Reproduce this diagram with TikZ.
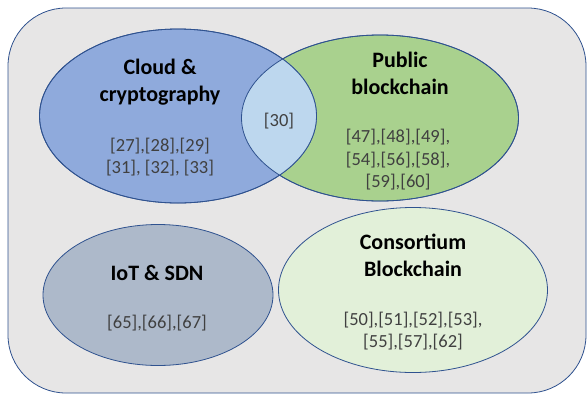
\documentclass[tikz,border=0pt]{standalone}
\usepackage{fontspec}
\setmainfont{Carlito}
\usepackage{tikz}
\usetikzlibrary{shapes.geometric}
\definecolor{setline}{HTML}{2F528F}
\definecolor{panelgray}{HTML}{E7E6E6}
\definecolor{cloudblue}{HTML}{8FAADC}
\definecolor{publicgreen}{HTML}{A9D18E}
\definecolor{lensblue}{HTML}{BDD7EE}
\definecolor{iotgray}{HTML}{ADB9CA}
\definecolor{consgreen}{HTML}{E2F0D9}
\definecolor{refgray}{HTML}{404040}

\begin{document}
\begin{tikzpicture}[x=1pt,y=-1pt,
  set node/.style={ellipse,draw=setline,line width=0.8pt,inner sep=0pt},
  title node/.style={font=\fontsize{22}{27}\selectfont\bfseries,align=center},
  ref node/.style={font=\fontsize{18.5}{22.5}\selectfont,text=refgray,align=center}]
  \useasboundingbox (0,0) rectangle (587,397);
  \draw[setline,fill=panelgray,line width=0.8pt,rounded corners=58pt] (8,8) rectangle (586,393);

  \node[set node,fill=publicgreen,minimum width=277pt,minimum height=166pt] (public) at (380,118) {};
  \node[set node,fill=cloudblue,minimum width=277pt,minimum height=174pt] (cloud) at (178,116) {};
  \node[set node,fill=iotgray,minimum width=230pt,minimum height=141pt] (iot) at (158,295) {};
  \node[set node,fill=consgreen,minimum width=269pt,minimum height=165pt] (cons) at (413,290) {};

  % overlap of the two top sets
  \begin{scope}
    \clip (cloud.center) ellipse [x radius=138.5pt,y radius=87pt];
    \fill[lensblue] (public.center) ellipse [x radius=138.5pt,y radius=83pt];
  \end{scope}
  \draw[setline,line width=0.8pt] (public.center) ellipse [x radius=138.5pt,y radius=83pt];
  \draw[setline,line width=0.8pt] (cloud.center) ellipse [x radius=138.5pt,y radius=87pt];

  \node[title node] (cloud title) at (160,82) {Cloud \&\\cryptography};
  \node[ref node] (cloud refs) at (160,157) {[27],[28],[29]\\{}[31], [32], [33]};
  \node[ref node] (both refs) at (279,121) {[30]};
  \node[title node] (public title) at (400,73) {Public\\blockchain};
  \node[ref node] (public refs) at (398,160) {[47],[48],[49],\\{}[54],[56],[58],\\{}[59],[60]};
  \node[title node] (iot title) at (157,273) {IoT \& SDN};
  \node[ref node] (iot refs) at (157,323) {[65],[66],[67]};
  \node[title node] (cons title) at (413,255) {Consortium\\Blockchain};
  \node[ref node] (cons refs) at (413,331) {[50],[51],[52],[53],\\{}[55],[57],[62]};
\end{tikzpicture}
\end{document}
